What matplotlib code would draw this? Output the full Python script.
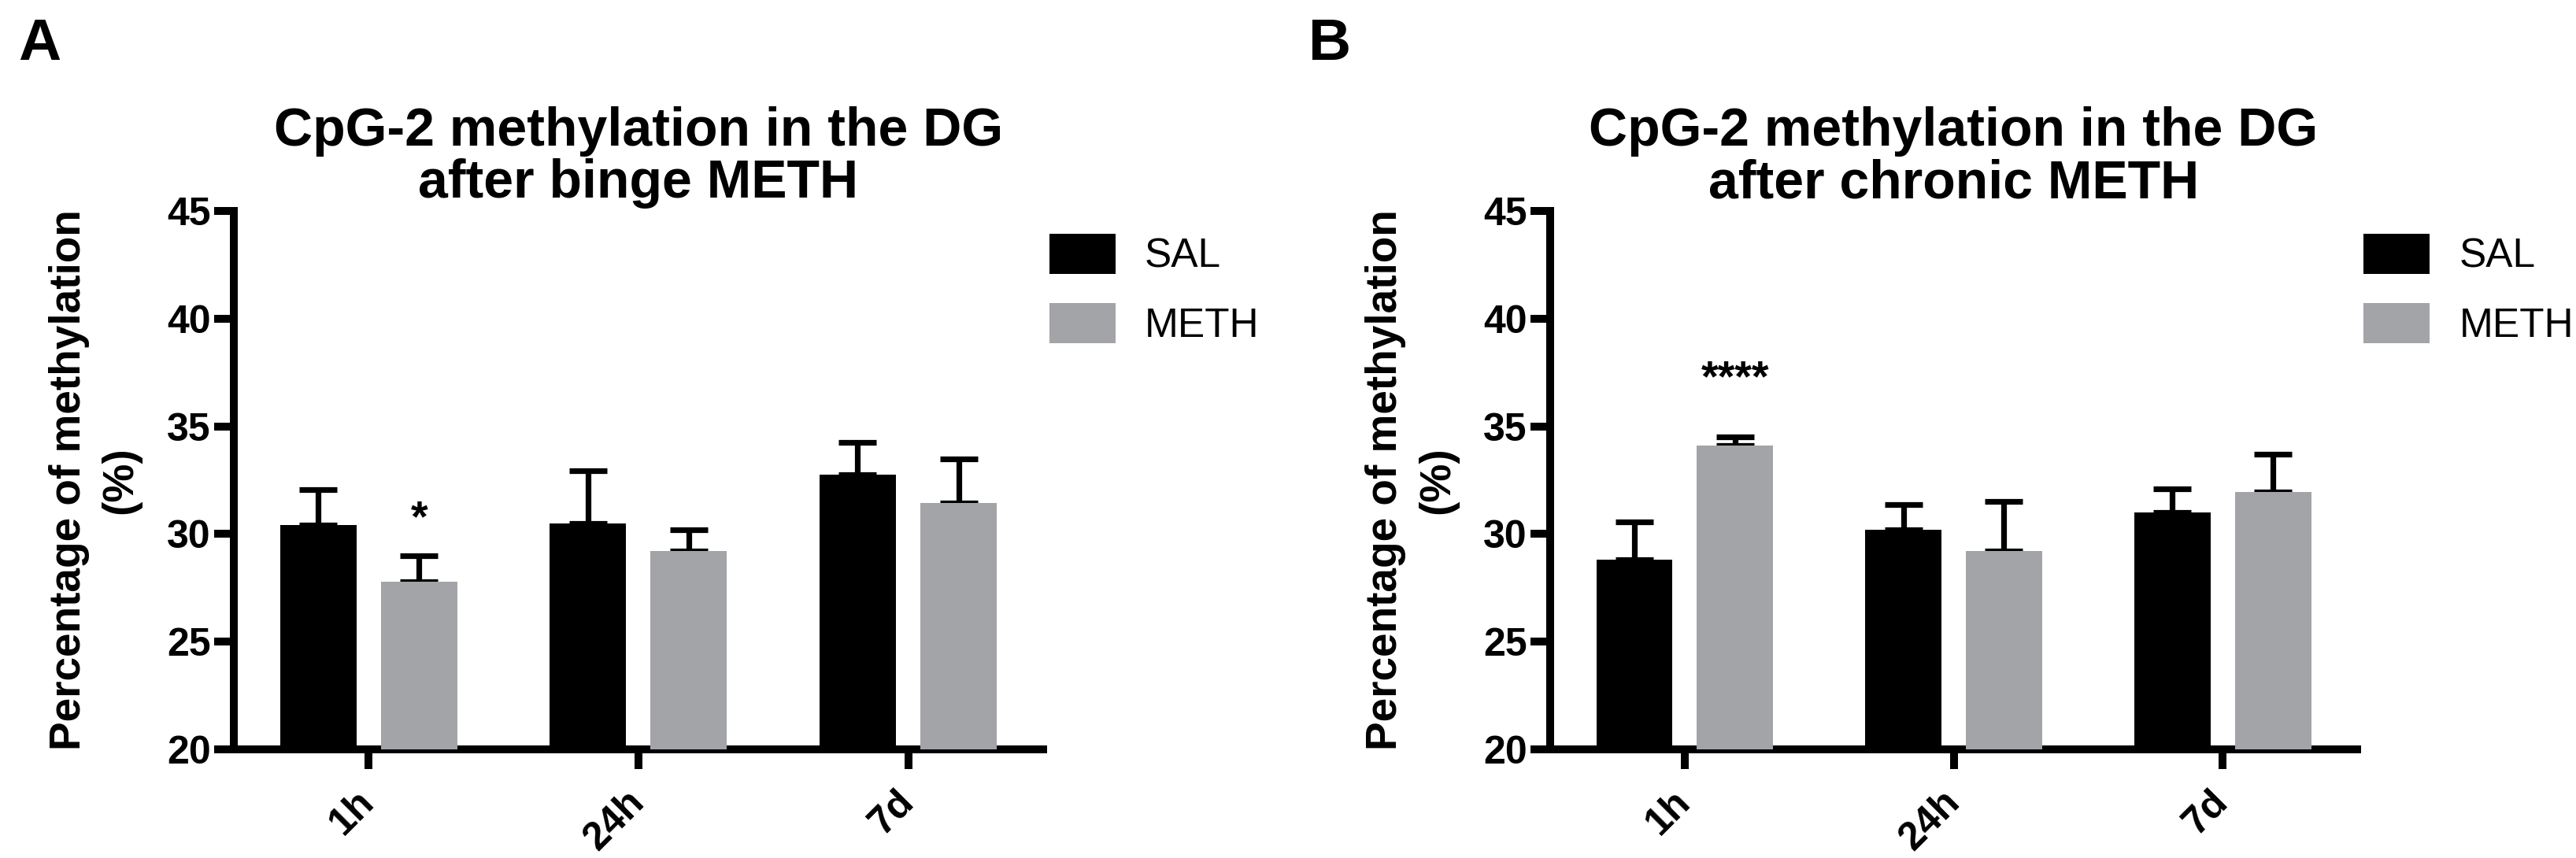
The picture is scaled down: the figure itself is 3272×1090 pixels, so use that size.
import numpy as np
import matplotlib
matplotlib.use('Agg')
import matplotlib.pyplot as plt
from matplotlib import font_manager
from matplotlib.font_manager import FontProperties

# Data (mean, upper error)
groups = ['1h', '24h', '7d']

binge_sal = [30.4, 30.5, 32.75]
binge_sal_err = [1.65, 2.45, 1.5]
binge_meth = [27.8, 29.2, 31.45]
binge_meth_err = [1.2, 1.0, 2.05]

chronic_sal = [28.8, 30.2, 31.0]
chronic_sal_err = [1.75, 1.15, 1.1]
chronic_meth = [34.1, 29.2, 31.95]
chronic_meth_err = [0.4, 2.3, 1.75]

# significance marks above the METH bars
binge_stars = ['*', '', '']
binge_star_y = [30.15, 0, 0]
chronic_stars = ['****', '', '']
chronic_star_y = [36.65, 0, 0]

SAL_COLOR = '#000000'
METH_COLOR = '#a3a4a8'

plt.rcParams['font.family'] = 'Liberation Sans'

# narrow font for title and legend if there is one
try:
    font_manager.findfont(FontProperties(family='Liberation Sans Narrow'),
                          fallback_to_default=False)
    narrow = 'Liberation Sans Narrow'
    title_size, legend_size = 56, 45
except ValueError:
    narrow = 'Liberation Sans'
    title_size, legend_size = 49, 37


def draw_panel(ax, sal, sal_err, meth, meth_err, title, stars, star_y):
    x = np.arange(len(groups))
    off = 0.187
    w = 0.283
    ax.bar(x - off, sal, width=w, color=SAL_COLOR, label='SAL', zorder=3)
    ax.bar(x + off, meth, width=w, color=METH_COLOR, label='METH', zorder=3)
    zeros = np.zeros(len(groups))
    ax.errorbar(x - off, sal, yerr=[zeros, sal_err], fmt='none', ecolor='black',
                elinewidth=5.2, capsize=17, capthick=5.2, zorder=2)
    ax.errorbar(x + off, meth, yerr=[zeros, meth_err], fmt='none', ecolor='black',
                elinewidth=5.2, capsize=17, capthick=5.2, zorder=2)
    for i, s in enumerate(stars):
        if s:
            ax.text(x[i] + off, star_y[i], s, ha='center', va='baseline',
                    fontsize=40, fontweight='bold')

    ax.set_xlim(-0.5, 2.5)
    ax.set_ylim(20, 45)
    ax.set_yticks(range(20, 46, 5))
    ax.set_xticks(x)
    ax.set_xticklabels(groups, rotation=45, ha='right', va='center',
                       rotation_mode='anchor')
    for side in ['top', 'right']:
        ax.spines[side].set_visible(False)
    for side in ['left', 'bottom']:
        ax.spines[side].set_linewidth(7.2)
        ax.spines[side].set_capstyle('projecting')
    ax.tick_params(axis='both', length=18, width=7.2, labelsize=36, color='black')
    ax.tick_params(axis='y', pad=3)
    ax.tick_params(axis='x', pad=25)
    for lbl in ax.get_xticklabels() + ax.get_yticklabels():
        lbl.set_fontweight('bold')

    ax.set_ylabel('Percentage of methylation\n(%)', fontsize=39.6,
                  fontweight='bold', linespacing=1.35)
    ax.yaxis.set_label_coords(-0.114, 0.5)
    ax.set_title(title, fontsize=title_size, fontweight='bold', family=narrow,
                 linespacing=1.05, pad=12)

    # legend boxes are about 84 x 59 px
    fs_px = legend_size * 100 / 72
    ax.legend(loc='upper left', bbox_to_anchor=(1.008, 0.958), frameon=False,
              prop={'family': narrow, 'size': legend_size}, borderpad=0,
              borderaxespad=0, handlelength=84 / fs_px, handleheight=59 / fs_px,
              handletextpad=37 / fs_px, labelspacing=34 / fs_px)


fig = plt.figure(figsize=(32.73, 10.9), dpi=100)
ax_a = fig.add_axes([0.0907, 0.1266, 0.3141, 0.6275])
ax_b = fig.add_axes([0.6016, 0.1266, 0.3132, 0.6275])

draw_panel(ax_a, binge_sal, binge_sal_err, binge_meth, binge_meth_err,
           'CpG-2 methylation in the DG\nafter binge METH', binge_stars, binge_star_y)
draw_panel(ax_b, chronic_sal, chronic_sal_err, chronic_meth, chronic_meth_err,
           'CpG-2 methylation in the DG\nafter chronic METH', chronic_stars, chronic_star_y)

fig.text(0.0070, 0.9303, 'A', fontsize=54, fontweight='bold', va='baseline')
fig.text(0.5078, 0.9303, 'B', fontsize=54, fontweight='bold', va='baseline')

fig.savefig('out.png', dpi=100)
